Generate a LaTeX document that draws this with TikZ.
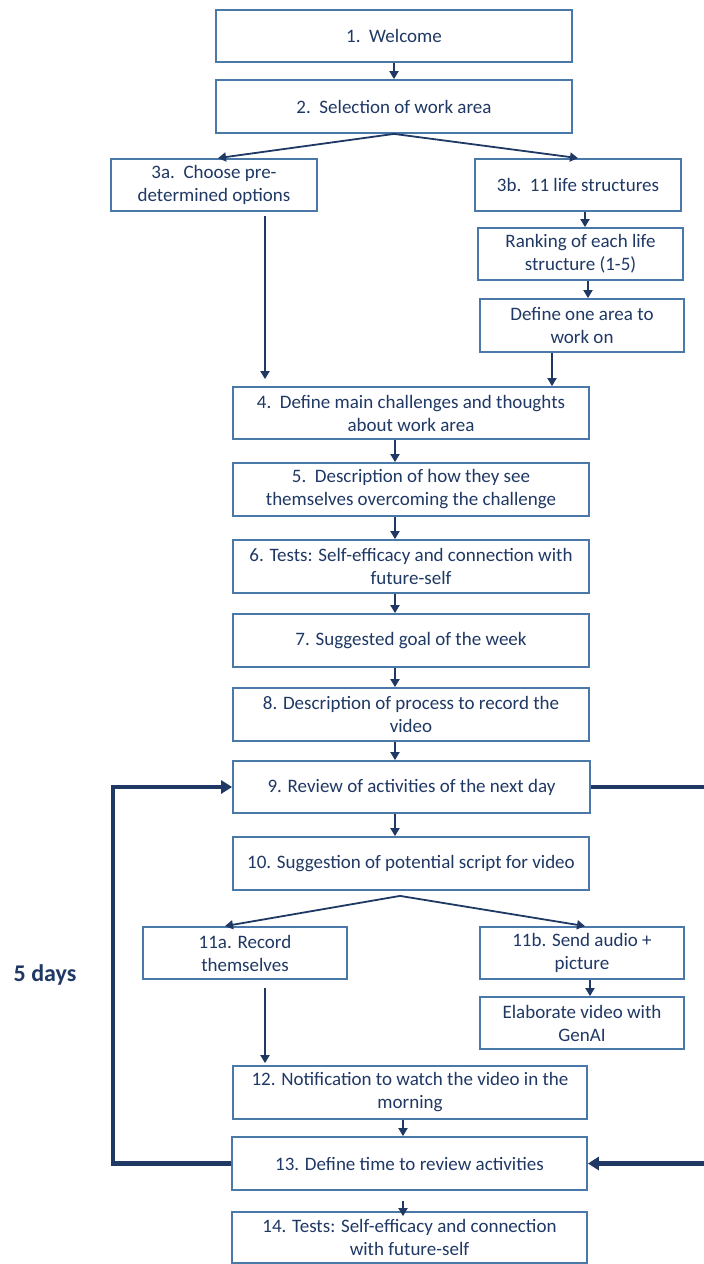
\documentclass[tikz,border=0pt]{standalone}
\usepackage{fontspec}
\setmainfont{Carlito}
\usetikzlibrary{arrows.meta}
\definecolor{navy}{HTML}{1F3864}
\definecolor{edge}{HTML}{4A78A8}
\tikzset{
  box/.style={draw=edge, line width=1.8pt, fill=white, text=navy, align=center,
    inner sep=0pt, font=\fontsize{19}{23}\selectfont},
  arr/.style={draw=navy, line width=1.8pt, -{Triangle[length=8pt,width=9pt]}},
  loopline/.style={draw=navy, line width=4.5pt},
  looparr/.style={draw=navy, line width=4.5pt, -{Triangle[length=11pt,width=13pt]}},
}
\begin{document}
\begin{tikzpicture}[x=1pt, y=-1pt]
\useasboundingbox (0,0) rectangle (704,1264);

% boxes
\node[box, minimum width=356pt, minimum height=52pt] (n1) at (394,36) {1.\ \ Welcome};
\node[box, minimum width=356pt, minimum height=53pt] (n2) at (394,106.5) {2.\ \ Selection of work area};
\node[box, minimum width=206pt, minimum height=52pt] (n3a) at (214,185) {3a.\ \ Choose pre-\\determined options};
\node[box, minimum width=206pt, minimum height=52pt] (n3b) at (578,185) {3b.\ \ 11 life structures};
\node[box, minimum width=205pt, minimum height=52pt] (rank) at (580.5,254) {Ranking of each life\\structure (1-5)};
\node[box, minimum width=204pt, minimum height=53pt] (area) at (582,325.5) {Define one area to\\work on};
\node[box, minimum width=356pt, minimum height=52pt] (n4) at (411,413) {4.\ \ Define main challenges and thoughts\\about work area};
\node[box, minimum width=356pt, minimum height=53pt] (n5) at (411,489.5) {5.\ \ Description of how they see\\themselves overcoming the challenge};
\node[box, minimum width=356pt, minimum height=53pt] (n6) at (411,566.5) {6. Tests: Self-efficacy and connection with\\future-self};
\node[box, minimum width=356pt, minimum height=53pt] (n7) at (411,640.5) {7. Suggested goal of the week};
\node[box, minimum width=356pt, minimum height=53pt] (n8) at (411,714.5) {8. Description of process to record the\\video};
\node[box, minimum width=357pt, minimum height=52pt] (n9) at (411.5,787) {9. Review of activities of the next day};
\node[box, minimum width=356pt, minimum height=53pt] (n10) at (411,863.5) {10. Suggestion of potential script for video};
\node[box, minimum width=204pt, minimum height=52pt] (n11a) at (245,953) {11a. Record\\themselves};
\node[box, minimum width=204pt, minimum height=52pt] (n11b) at (582,953) {11b. Send audio +\\picture};
\node[box, minimum width=204pt, minimum height=52pt] (elab) at (582,1023) {Elaborate video with\\GenAI};
\node[box, minimum width=354pt, minimum height=53pt] (n12) at (410,1092.5) {12. Notification to watch the video in the\\morning};
\node[box, minimum width=355pt, minimum height=53pt] (n13) at (409.5,1163.5) {13. Define time to review activities};
\node[box, minimum width=355pt, minimum height=51pt] (n14) at (409.5,1237.5) {14. Tests: Self-efficacy and connection\\with future-self};

\node[text=navy, font=\fontsize{24}{28}\selectfont\bfseries] (days) at (45,975) {5 days};

% connector columns
\coordinate (cmain) at (395,0);
\coordinate (cleft) at (265,0);
\coordinate (c3b) at (585,0);
\coordinate (crank) at (588,0);
\coordinate (carea) at (552,0);
\coordinate (c11b) at (590,0);
\coordinate (clow) at (403,0);
\coordinate (cloop) at (113,0);
\coordinate (redge) at (704,0);

% top part
\draw[arr] (n1.south) -- (n2.north);
\draw[arr] (n2.south) -- ([xshift=4pt]n3a.north);
\draw[arr] (n2.south) -- (n3b.north);
\draw[arr, shorten <=4pt, shorten >=7pt] (n3a.south -| cleft) -- (n4.north -| cleft);
\draw[arr] (n3b.south -| c3b) -- (rank.north -| c3b);
\draw[arr] (rank.south -| crank) -- (area.north -| crank);
\draw[arr] (area.south -| carea) -- (n4.north -| carea);

% main column
\draw[arr] (n4.south -| cmain) -- (n5.north -| cmain);
\draw[arr] (n5.south -| cmain) -- (n6.north -| cmain);
\draw[arr] (n6.south -| cmain) -- (n7.north -| cmain);
\draw[arr] (n7.south -| cmain) -- (n8.north -| cmain);
\draw[arr] (n8.south -| cmain) -- (n9.north -| cmain);
\draw[arr] (n9.south -| cmain) -- (n10.north -| cmain);

% recording branches
\coordinate (split) at ([xshift=-11pt,yshift=-5pt]n10.south);
\draw[arr] (split) -- ([xshift=-20pt]n11a.north);
\draw[arr] (split) -- ([xshift=3pt]n11b.north);
\draw[arr, shorten <=8pt, shorten >=2pt] (n11a.south -| cleft) -- (n12.north -| cleft);
\draw[arr] (n11b.south -| c11b) -- (elab.north -| c11b);
\draw[arr] (n12.south -| clow) -- (n13.north -| clow);
\draw[arr, shorten <=10pt, shorten >=-5pt] (n13.south -| clow) -- (n14.north -| clow);

% daily loop
\draw[looparr] (n13.west) -- (n13.west -| cloop) |- (n9.west);
\draw[loopline] (n9.east) -- (n9.east -| redge);
\draw[looparr] (n13.east -| redge) -- (n13.east);
\end{tikzpicture}
\end{document}
